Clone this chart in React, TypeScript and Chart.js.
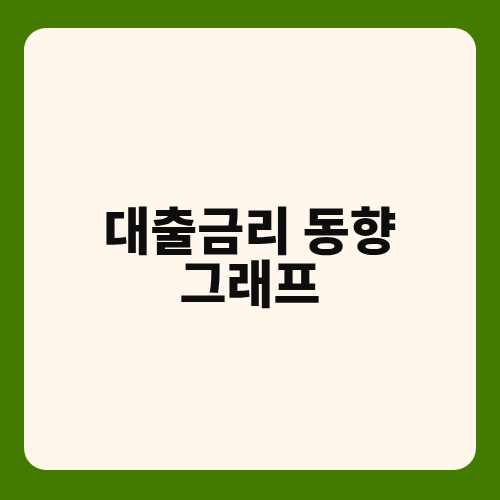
import React, { useEffect, useRef } from 'react';
import Chart, { ChartConfiguration } from 'chart.js/auto';

// the picture has no plotted series, only the title card
const titleLines: string[] = ['대출금리 동향', '그래프'];
const labels: string[] = [];
const rates: number[] = [];

const TitleCard: React.FC = () => {
  const canvasRef = useRef<HTMLCanvasElement>(null);
  const chartRef = useRef<Chart<'line'> | null>(null);

  useEffect(() => {
    if (!canvasRef.current) return;
    const ctx = canvasRef.current.getContext('2d');
    if (!ctx) return;
    if (chartRef.current) chartRef.current.destroy();

    chartRef.current = new Chart(ctx, {
      type: 'line',
      data: {
        labels: labels,
        datasets: [{ label: '대출금리', data: rates }],
      },
      options: {
        animation: false,
        responsive: true,
        maintainAspectRatio: false,
        layout: { padding: 0 },
        scales: {
          x: { display: false },
          y: { display: false },
        },
        plugins: {
          legend: { display: false },
          tooltip: { enabled: false },
          title: {
            display: true,
            text: titleLines,
            color: '#0d0d0d',
            align: 'center',
            font: {
              family: '"Noto Sans CJK KR", "Noto Sans", sans-serif',
              size: 51,
              weight: 900,
              lineHeight: 1.04,
            },
            padding: { top: 176, bottom: 0 },
          },
        },
      },
    } as ChartConfiguration<'line'>);

    return () => {
      if (chartRef.current) {
        chartRef.current.destroy();
        chartRef.current = null;
      }
    };
  }, []);

  return <canvas ref={canvasRef} />;
};

export default function App() {
  return (
    <div style={{ position: 'fixed', inset: 0, background: '#437a00' }}>
      <div
        style={{
          position: 'absolute',
          left: 24,
          top: 28,
          width: 452,
          height: 442,
          borderRadius: 22,
          background: '#fff6ec',
          overflow: 'hidden',
        }}
      >
        <TitleCard />
      </div>
    </div>
  );
}
